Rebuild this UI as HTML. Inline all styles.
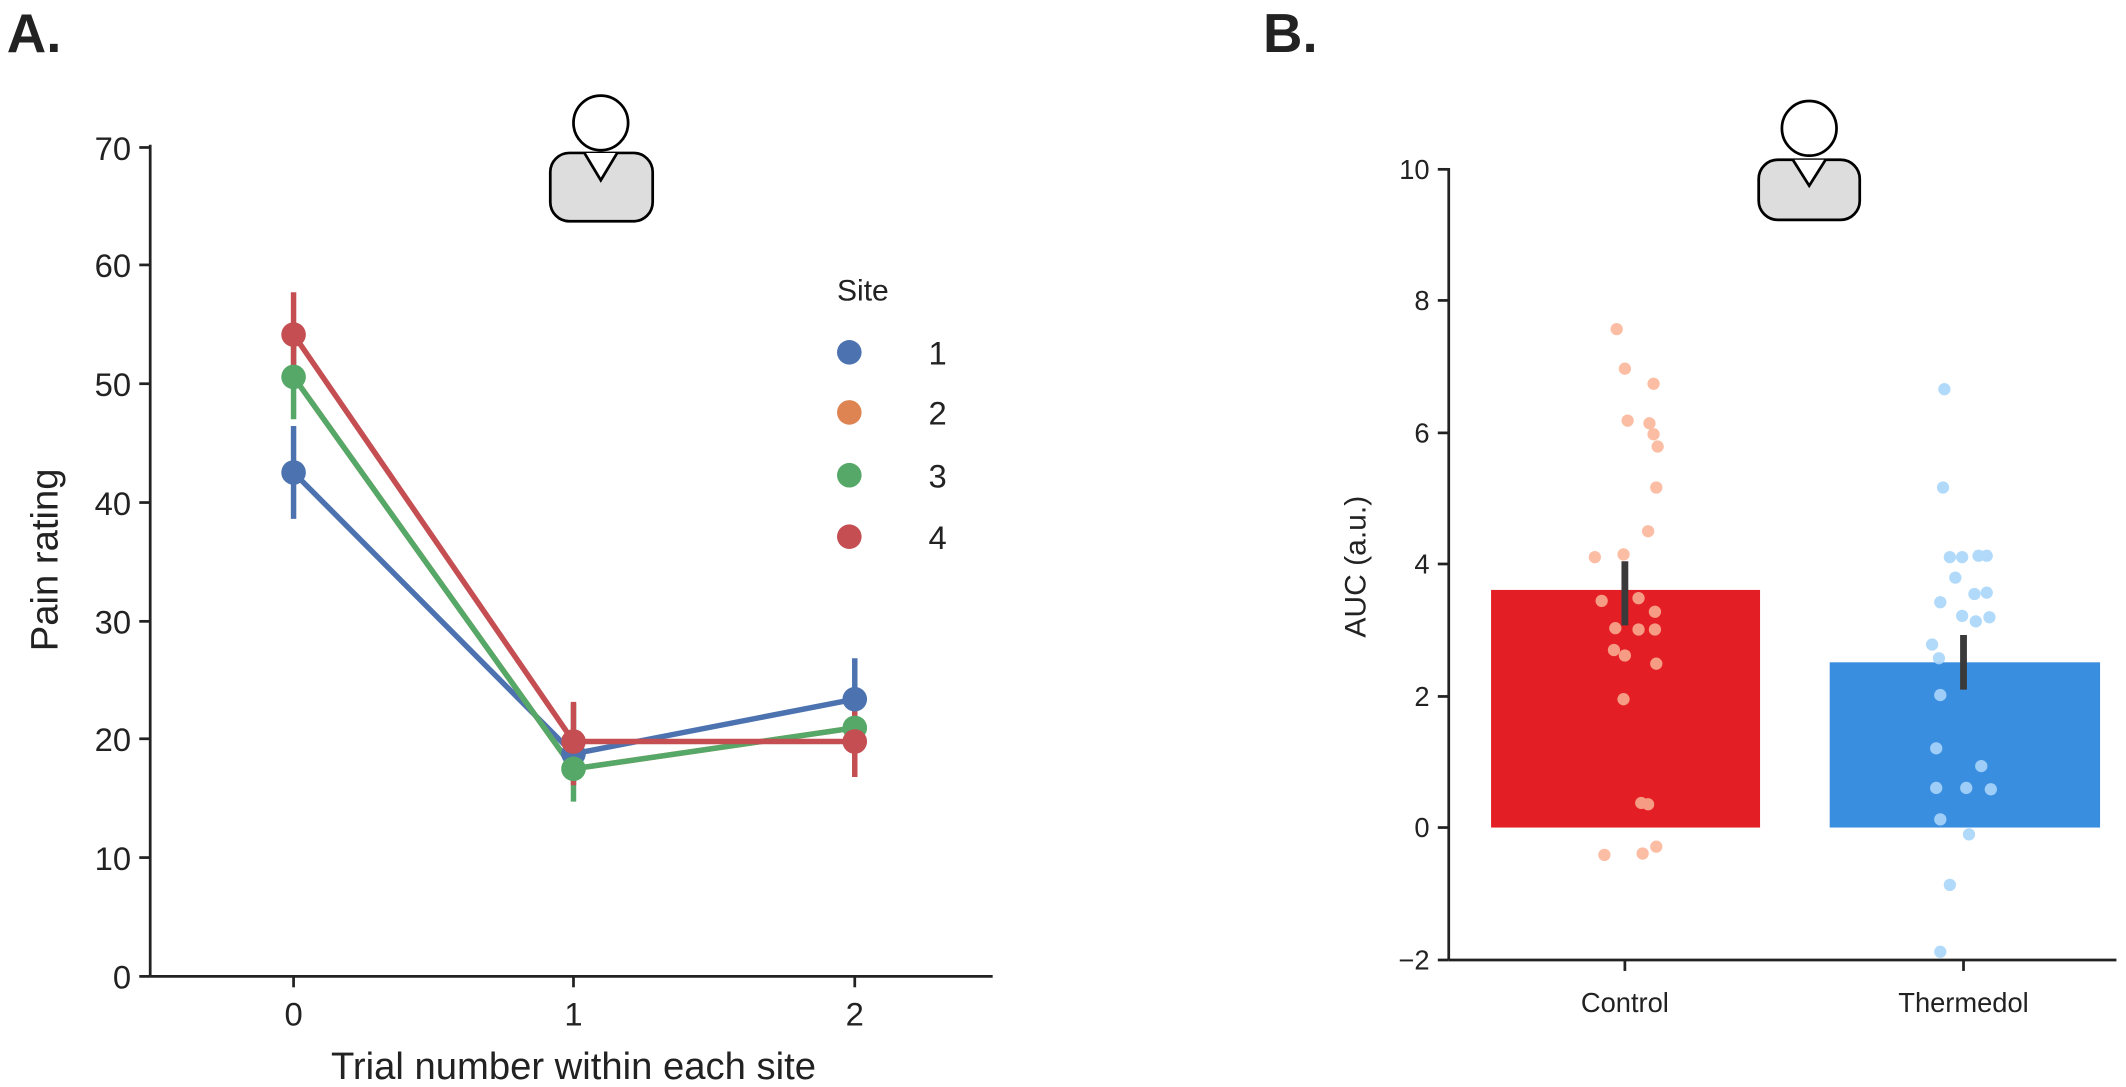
<!DOCTYPE html>
<html><head><style>html,body{margin:0;padding:0;background:#fff}svg{display:block}text{font-family:"Liberation Sans",Arial,sans-serif;fill:#222}</style></head>
<body>
<svg width="2126" height="1087" viewBox="0 0 1557 796" preserveAspectRatio="none" xmlns="http://www.w3.org/2000/svg">
<text x="5" y="38" font-size="40" font-weight="bold" fill="#000">A.</text>
<text x="925" y="38" font-size="40" font-weight="bold" fill="#000">B.</text>
<g stroke="#000" stroke-width="2" fill="#ddd">
<rect x="403" y="112" width="75" height="50" rx="14"/>
<path d="M428 112 L440 132 L452 112" fill="#fff"/>
<circle cx="440" cy="90" r="20" fill="#fff"/>
<rect x="1288" y="117" width="74" height="44" rx="14"/>
<path d="M1313 117 L1325 136 L1337 117" fill="#fff"/>
<circle cx="1325" cy="94" r="20" fill="#fff"/>
</g>
<g stroke="#222" stroke-width="2">
<line x1="110" y1="106" x2="110" y2="715"/><line x1="110" y1="715" x2="727" y2="715"/>
<line x1="102" y1="108" x2="110" y2="108"/><line x1="102" y1="194" x2="110" y2="194"/><line x1="102" y1="281" x2="110" y2="281"/><line x1="102" y1="368" x2="110" y2="368"/><line x1="102" y1="455" x2="110" y2="455"/><line x1="102" y1="541" x2="110" y2="541"/><line x1="102" y1="628" x2="110" y2="628"/><line x1="102" y1="715" x2="110" y2="715"/>
<line x1="215" y1="715" x2="215" y2="723"/><line x1="420" y1="715" x2="420" y2="723"/><line x1="626" y1="715" x2="626" y2="723"/>
</g>
<g font-size="24" text-anchor="end">
<text x="96" y="117">70</text><text x="96" y="203">60</text><text x="96" y="290">50</text><text x="96" y="377">40</text><text x="96" y="464">30</text><text x="96" y="550">20</text><text x="96" y="637">10</text><text x="96" y="724">0</text>
</g>
<g font-size="24" text-anchor="middle"><text x="215" y="751">0</text><text x="420" y="751">1</text><text x="626" y="751">2</text></g>
<text x="420" y="790" font-size="28" text-anchor="middle">Trial number within each site</text>
<text transform="translate(42,410) rotate(-90)" font-size="28" text-anchor="middle">Pain rating</text>
<g stroke-width="4" fill="none">
<polyline points="215,346 420,552 626,512" stroke="#4c72b0"/>
<polyline points="215,276 420,563 626,533" stroke="#dd8452"/>
<polyline points="215,276 420,563 626,533" stroke="#55a868"/>
<polyline points="215,245 420,543 626,543" stroke="#c44e52"/>
<line x1="215" y1="380" x2="215" y2="312" stroke="#4c72b0"/><line x1="420" y1="570" x2="420" y2="535" stroke="#4c72b0"/><line x1="626" y1="543" x2="626" y2="482" stroke="#4c72b0"/>
<line x1="215" y1="307" x2="215" y2="245" stroke="#55a868"/><line x1="420" y1="587" x2="420" y2="515" stroke="#55a868"/><line x1="626" y1="569" x2="626" y2="515" stroke="#55a868"/>
<line x1="215" y1="277" x2="215" y2="214" stroke="#c44e52"/><line x1="420" y1="575" x2="420" y2="514" stroke="#c44e52"/><line x1="626" y1="569" x2="626" y2="515" stroke="#c44e52"/>
</g>
<circle cx="215" cy="346" r="9" fill="#4c72b0"/><circle cx="420" cy="552" r="9" fill="#4c72b0"/><circle cx="626" cy="512" r="9" fill="#4c72b0"/>
<circle cx="215" cy="276" r="9" fill="#55a868"/><circle cx="420" cy="563" r="9" fill="#55a868"/><circle cx="626" cy="533" r="9" fill="#55a868"/>
<circle cx="215" cy="245" r="9" fill="#c44e52"/><circle cx="420" cy="543" r="9" fill="#c44e52"/><circle cx="626" cy="543" r="9" fill="#c44e52"/>
<text x="613" y="220" font-size="22">Site</text>
<circle cx="622" cy="258" r="9" fill="#4c72b0"/><circle cx="622" cy="302" r="9" fill="#dd8452"/><circle cx="622" cy="348" r="9" fill="#55a868"/><circle cx="622" cy="393" r="9" fill="#c44e52"/>
<g font-size="24"><text x="680" y="267">1</text><text x="680" y="311">2</text><text x="680" y="357">3</text><text x="680" y="402">4</text></g>
<rect x="1092" y="432" width="197" height="174" fill="#e31e24"/>
<rect x="1340" y="485" width="198" height="121" fill="#3a8ee0"/>
<g fill="#fbb295" opacity="0.85">
<circle cx="1184" cy="241" r="4.5"/><circle cx="1190" cy="270" r="4.5"/><circle cx="1211" cy="281" r="4.5"/><circle cx="1192" cy="308" r="4.5"/><circle cx="1208" cy="310" r="4.5"/><circle cx="1211" cy="318" r="4.5"/><circle cx="1214" cy="327" r="4.5"/><circle cx="1213" cy="357" r="4.5"/><circle cx="1207" cy="389" r="4.5"/><circle cx="1168" cy="408" r="4.5"/><circle cx="1189" cy="406" r="4.5"/><circle cx="1173" cy="440" r="4.5"/><circle cx="1200" cy="438" r="4.5"/><circle cx="1212" cy="448" r="4.5"/><circle cx="1183" cy="460" r="4.5"/><circle cx="1200" cy="461" r="4.5"/><circle cx="1212" cy="461" r="4.5"/><circle cx="1182" cy="476" r="4.5"/><circle cx="1190" cy="480" r="4.5"/><circle cx="1213" cy="486" r="4.5"/><circle cx="1189" cy="512" r="4.5"/><circle cx="1202" cy="588" r="4.5"/><circle cx="1207" cy="589" r="4.5"/><circle cx="1175" cy="626" r="4.5"/><circle cx="1203" cy="625" r="4.5"/><circle cx="1213" cy="620" r="4.5"/>
</g>
<g fill="#a9d6fa" opacity="0.9">
<circle cx="1424" cy="285" r="4.5"/><circle cx="1423" cy="357" r="4.5"/><circle cx="1437" cy="408" r="4.5"/><circle cx="1428" cy="408" r="4.5"/><circle cx="1432" cy="423" r="4.5"/><circle cx="1449" cy="407" r="4.5"/><circle cx="1455" cy="407" r="4.5"/><circle cx="1421" cy="441" r="4.5"/><circle cx="1446" cy="435" r="4.5"/><circle cx="1455" cy="434" r="4.5"/><circle cx="1437" cy="451" r="4.5"/><circle cx="1457" cy="452" r="4.5"/><circle cx="1447" cy="455" r="4.5"/><circle cx="1415" cy="472" r="4.5"/><circle cx="1420" cy="482" r="4.5"/><circle cx="1421" cy="509" r="4.5"/><circle cx="1418" cy="548" r="4.5"/><circle cx="1418" cy="577" r="4.5"/><circle cx="1440" cy="577" r="4.5"/><circle cx="1451" cy="561" r="4.5"/><circle cx="1458" cy="578" r="4.5"/><circle cx="1421" cy="600" r="4.5"/><circle cx="1442" cy="611" r="4.5"/><circle cx="1428" cy="648" r="4.5"/><circle cx="1421" cy="697" r="4.5"/>
</g>
<g stroke="#3a3a3a" stroke-width="5"><line x1="1190" y1="411" x2="1190" y2="458"/><line x1="1438" y1="465" x2="1438" y2="505"/></g>
<g stroke="#222" stroke-width="2">
<line x1="1061" y1="123" x2="1061" y2="703"/><line x1="1061" y1="703" x2="1550" y2="703"/>
<line x1="1053" y1="124" x2="1061" y2="124"/><line x1="1053" y1="220" x2="1061" y2="220"/><line x1="1053" y1="317" x2="1061" y2="317"/><line x1="1053" y1="413" x2="1061" y2="413"/><line x1="1053" y1="510" x2="1061" y2="510"/><line x1="1053" y1="606" x2="1061" y2="606"/><line x1="1053" y1="703" x2="1061" y2="703"/>
<line x1="1190" y1="703" x2="1190" y2="711"/><line x1="1438" y1="703" x2="1438" y2="711"/>
</g>
<g font-size="20" text-anchor="end">
<text x="1047" y="131">10</text><text x="1047" y="227">8</text><text x="1047" y="324">6</text><text x="1047" y="420">4</text><text x="1047" y="517">2</text><text x="1047" y="613">0</text><text x="1047" y="710">−2</text>
</g>
<g font-size="20" text-anchor="middle"><text x="1190" y="741">Control</text><text x="1438" y="741">Thermedol</text></g>
<text transform="translate(1000,415) rotate(-90)" font-size="22" text-anchor="middle">AUC (a.u.)</text>
</svg>
</body></html>
